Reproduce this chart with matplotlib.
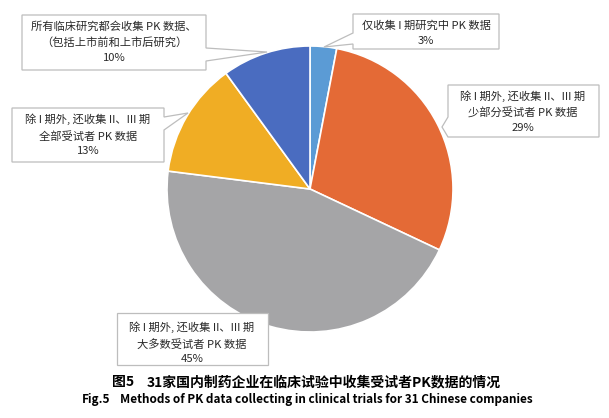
import matplotlib
matplotlib.use('Agg')
from matplotlib import pyplot as plt
from matplotlib.patches import Polygon

plt.rcParams['font.family'] = ['Noto Sans CJK SC', 'DejaVu Sans']

# data, clockwise from the top
shares = [3, 29, 45, 13, 10]
colors = ['#5B9BD5', '#E46A36', '#A5A5A7', '#F0AD24', '#4A6CC0']
labels = ['仅收集 I 期研究中 PK 数据',
          '除 I 期外, 还收集 II、III 期\n少部分受试者 PK 数据',
          '除 I 期外, 还收集 II、III 期\n大多数受试者 PK 数据',
          '除 I 期外, 还收集 II、III 期\n全部受试者 PK 数据',
          '所有临床研究都会收集 PK 数据、\n（包括上市前和上市后研究）']
title_cn = '31家国内制药企业在临床试验中收集受试者PK数据的情况'
title_en = 'Methods of PK data collecting in clinical trials for 31 Chinese companies'

W, H = 609, 418
fig = plt.figure(figsize=(W/100, H/100), dpi=100)
ax = fig.add_axes([0, 0, 1, 1])

cx, cy, r = 310, 189, 143
# y axis is flipped (pixel coords), so counterclock=True runs clockwise on screen
ax.pie(shares, colors=colors, startangle=-90, counterclock=True,
       center=(cx, cy), radius=r,
       wedgeprops=dict(edgecolor='white', linewidth=1.2))

ax.set_xlim(0, W)
ax.set_ylim(H, 0)
ax.set_aspect('equal')
ax.axis('off')

# callout boxes (pixel outlines) and label centres, same order as shares
boxes = [
    [(353, 14), (499, 14), (499, 49), (353, 49), (353, 44), (324, 47), (353, 33)],
    [(448, 85), (599, 85), (599, 137), (448, 137), (442, 127), (448, 117)],
    [(117, 313), (268, 313), (268, 365), (117, 365)],
    [(12, 108), (164, 108), (164, 117), (188, 113), (164, 130), (164, 162), (12, 162)],
    [(22, 15), (206, 15), (206, 48), (267, 52), (206, 61), (206, 70), (22, 70)],
]
centres = [(426, 33), (523, 112), (192, 343), (88, 135), (114, 42)]

for pts, (tx, ty), lab, v in zip(boxes, centres, labels, shares):
    ax.add_patch(Polygon(pts, closed=True, facecolor='white',
                         edgecolor='#BDBDBD', linewidth=0.9, zorder=3))
    ax.text(tx, ty, lab + '\n' + str(v) + '%', ha='center', va='center',
            fontsize=8.1, color='#2A2A2A', linespacing=1.6, zorder=4)

ax.text(112, 382, '图5', ha='left', va='center', fontsize=10,
        fontweight='bold', color='black')
ax.text(147, 382, title_cn, ha='left', va='center', fontsize=10,
        fontweight='bold', color='black')
ax.text(82, 400, 'Fig.5', ha='left', va='center', fontsize=8.5,
        fontweight='bold', color='black')
ax.text(120, 400, title_en, ha='left', va='center', fontsize=8.5,
        fontweight='bold', color='black')

fig.savefig('out.png', dpi=100, facecolor='white')
